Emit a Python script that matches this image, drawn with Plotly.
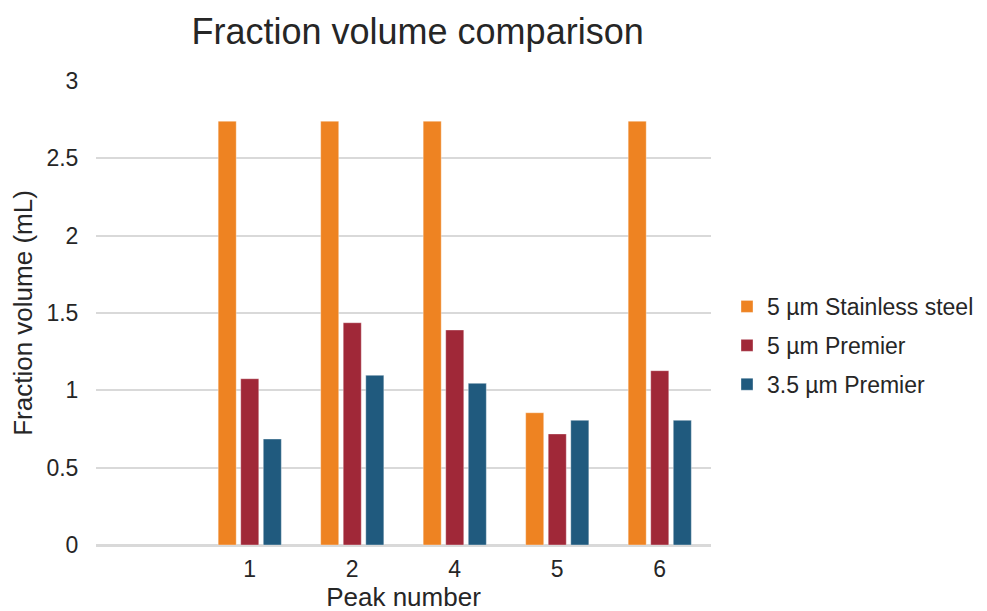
import plotly.graph_objects as go

categories = [" ", "1", "2", "4", "5", "6"]
series_names = ["5 µm Stainless steel", "5 µm Premier", "3.5 µm Premier"]
stainless_5 = [None, 2.74, 2.74, 2.74, 0.855, 2.74]
premier_5 = [None, 1.075, 1.437, 1.39, 0.718, 1.127]
premier_35 = [None, 0.685, 1.097, 1.045, 0.806, 0.806]
colors = ["#EE8322", "#A02838", "#205A7E"]
y_ticks = [0, 0.5, 1, 1.5, 2, 2.5, 3]
y_tick_labels = ["0", "0.5", "1", "1.5", "2", "2.5", "3"]

font_family = "Arial, Liberation Sans, sans-serif"

fig = go.Figure()
for i, (name, vals) in enumerate(zip(series_names, [stainless_5, premier_5, premier_35])):
    fig.add_trace(go.Bar(
        x=categories, y=vals, name=name,
        marker=dict(color=colors[i], line=dict(width=0.6, color="rgba(255,255,255,0.6)")),
        legendgroup=f"g{i}",
    ))

fig.update_layout(
    width=987, height=611,
    paper_bgcolor="white", plot_bgcolor="white",
    font=dict(family=font_family, color="#262626"),
    title=dict(text="Fraction volume comparison", x=0.415, xanchor="center",
               y=0.962, yanchor="middle",
               font=dict(size=36, color="#262626", family=font_family)),
    margin=dict(l=88, r=284, t=73, b=74, autoexpand=False),
    barmode="group", bargap=0.34, bargroupgap=0.2,
    showlegend=True,
    legend=dict(x=1.026, xanchor="left", y=0.43, yanchor="middle",
                font=dict(size=23, color="#262626"), tracegroupgap=6,
                itemwidth=30, bgcolor="rgba(0,0,0,0)"),
    xaxis=dict(type="category", categoryorder="array", categoryarray=categories,
               showgrid=False, showline=True, linecolor="#d9d9d9", linewidth=1.5,
               tickfont=dict(size=23), ticks="outside", ticklen=3, tickcolor="white",
               title=dict(text="Peak number", font=dict(size=26), standoff=6)),
    yaxis=dict(range=[0, 3], tickvals=y_ticks, ticktext=y_tick_labels,
               showgrid=True, gridcolor="#d9d9d9", gridwidth=1.5,
               zeroline=True, zerolinecolor="#d9d9d9", zerolinewidth=1.5,
               tickfont=dict(size=23), ticks="outside", ticklen=12, tickcolor="white",
               title=dict(text="Fraction volume (mL)", font=dict(size=26), standoff=8)),
)

fig.write_html("out.html")
